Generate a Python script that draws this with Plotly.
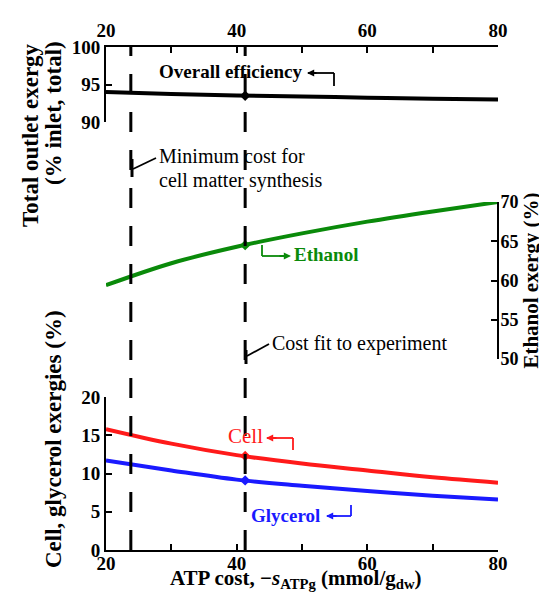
import plotly.graph_objects as go

# ---- data ----
atp_cost = [20, 30, 40, 50, 60, 70, 80]
overall_eff = [94.0, 93.75, 93.55, 93.4, 93.25, 93.1, 93.0]
ethanol = [59.4, 62.2, 64.3, 66.0, 67.5, 68.8, 70.0]
cell = [15.8, 13.9, 12.4, 11.3, 10.4, 9.5, 8.8]
glycerol = [11.7, 10.4, 9.2, 8.4, 7.7, 7.1, 6.6]
fit_x = [41.3]
fit_eff = [93.5]
fit_eth = [64.5]
fit_cell = [12.3]
fit_gly = [9.1]
min_cost_x = 23.8
x_ticks = [20, 40, 60, 80]
x_minor = [30, 50, 70]
top_ticks = [90, 95, 100]
eth_ticks = [50, 55, 60, 65, 70]
bot_ticks = [0, 5, 10, 15, 20]

W, H = 547, 593
L, R, T, B = 98, 57, 39, 51
PW, PH = W - L - R, H - T - B


def px(x):
    return (x - L) / PW


def py(y):
    return (H - B - y) / PH


SERIF = "Liberation Serif, Times New Roman, serif"
GREEN = "#0a8a0a"
RED = "#ff1a1a"
BLUE = "#1a1aff"

fig = go.Figure()
fig.add_trace(go.Scatter(x=atp_cost, y=overall_eff, mode="lines", line=dict(color="black", width=4, shape="spline"),
                         xaxis="x", yaxis="y"))
fig.add_trace(go.Scatter(x=atp_cost, y=ethanol, mode="lines", line=dict(color=GREEN, width=4, shape="spline"),
                         xaxis="x", yaxis="y2"))
fig.add_trace(go.Scatter(x=atp_cost, y=cell, mode="lines", line=dict(color=RED, width=4, shape="spline"),
                         xaxis="x", yaxis="y3"))
fig.add_trace(go.Scatter(x=atp_cost, y=glycerol, mode="lines", line=dict(color=BLUE, width=4, shape="spline"),
                         xaxis="x", yaxis="y3"))
for yv, ya, col in [(fit_eff, "y", "black"), (fit_eth, "y2", GREEN), (fit_cell, "y3", RED), (fit_gly, "y3", BLUE)]:
    fig.add_trace(go.Scatter(x=fit_x, y=yv, mode="markers", marker=dict(color=col, size=8, symbol="diamond"),
                             xaxis="x", yaxis=ya))
# dummy trace to activate the top x axis
fig.add_trace(go.Scatter(x=[20], y=[95], xaxis="x2", yaxis="y", mode="markers", marker=dict(opacity=0),
                         hoverinfo="skip"))

tickfont = dict(family=SERIF, size=19, color="black", weight="bold")
minor = dict(tickvals=x_minor, ticks="inside", ticklen=6, tickwidth=2, tickcolor="black")
axis_common = dict(showgrid=False, zeroline=False, showline=True, linecolor="black", linewidth=2,
                   ticks="inside", ticklen=6, tickwidth=2, tickcolor="black")

fig.update_layout(
    width=W, height=H, margin=dict(l=L, r=R, t=T, b=B),
    paper_bgcolor="white", plot_bgcolor="white", showlegend=False,
    xaxis=dict(range=[20, 80], tickvals=x_ticks, anchor="y3", minor=minor, ticklabelstandoff=-5,
               tickfont=tickfont, **axis_common),
    xaxis2=dict(range=[20, 80], tickvals=x_ticks, anchor="y", overlaying="x", side="top", matches="x",
                minor=minor, tickfont=tickfont, **axis_common),
    yaxis=dict(range=[90, 100], tickvals=top_ticks, domain=[py(114), 1], anchor="x", tickfont=tickfont,
               **axis_common),
    yaxis2=dict(range=[50, 70], tickvals=eth_ticks, domain=[py(351), py(194)], anchor="free", position=1,
                side="right", ticklabelstandoff=-2,
                tickfont=dict(family=SERIF, size=18, color="black", weight="bold"),
                title=dict(text="<b>Ethanol exergy (%)</b>", standoff=0,
                           font=dict(family=SERIF, size=21, color="black")),
                **axis_common),
    yaxis3=dict(range=[0, 20], tickvals=bot_ticks, domain=[0, py(389)], anchor="x", tickfont=tickfont,
                **axis_common),
)

shapes = []
for xv in [min_cost_x, fit_x[0]]:
    shapes.append(dict(type="line", xref="x", yref="paper", x0=xv, x1=xv, y0=0, y1=1,
                       line=dict(color="black", width=3, dash="20px,18px")))


def seg(x0, y0, x1, y1, color="black", w=1.8):
    shapes.append(dict(type="line", xref="paper", yref="paper", x0=px(x0), y0=py(y0), x1=px(x1), y1=py(y1),
                       line=dict(color=color, width=w)))


# leader lines
seg(300, 65, 326, 65)
seg(326, 65, 326, 78)
seg(124, 151, 124, 169, w=3)
seg(125, 161, 148, 150)
seg(238, 342, 238, 356, w=3)
seg(239, 348, 261, 336)
seg(254, 237, 254, 248, GREEN)
seg(254, 248, 280, 248, GREEN)
seg(259, 430, 285, 430, RED)
seg(285, 430, 285, 442, RED)
seg(319, 508, 343, 508, BLUE)
seg(343, 508, 343, 497, BLUE)
fig.update_layout(shapes=shapes)

ann = []


def text(x, y, s, size=19, color="black", anchor="left", angle=0, bold=False, vanchor="middle"):
    ann.append(dict(xref="paper", yref="paper", x=px(x), y=py(y), text=f"<b>{s}</b>" if bold else s,
                    showarrow=False, xanchor=anchor, yanchor=vanchor, textangle=angle,
                    font=dict(family=SERIF, size=size, color=color)))


def arrow(xhead, yhead, xtail, color):
    ann.append(dict(xref="paper", yref="paper", x=px(xhead), y=py(yhead), ax=xtail - xhead, ay=0,
                    axref="pixel", ayref="pixel", text="", showarrow=True, arrowhead=2, arrowsize=0.8,
                    arrowwidth=1.8, arrowcolor=color))


text(149, 64, "Overall efficiency", 19, bold=True)
arrow(299, 65, 310, "black")
text(149, 148, "Minimum cost for", 20)
text(149, 173, "cell matter synthesis", 20)
text(284, 247, "Ethanol", 19, GREEN, bold=True)
arrow(283, 248, 270, GREEN)
text(262, 335, "Cost fit to experiment", 20)
text(218, 428, "Cell", 21, RED)
arrow(258, 430, 270, RED)
text(241, 507, "Glycerol", 19, BLUE, bold=True)
arrow(318, 508, 330, BLUE)

# axis titles
text(22, 127, "Total outlet exergy", 23, angle=-90, anchor="center", bold=True)
text(45, 105, "(% inlet, total)", 23, angle=-90, anchor="center", bold=True)
text(45, 431, "Cell, glycerol exergies (%)", 23, angle=-90, anchor="center", bold=True)
text(288, 586, "ATP cost, −<i>s</i><sub>ATPg</sub> (mmol/g<sub>dw</sub>)", 21, anchor="center", bold=True,
     vanchor="bottom")
fig.update_layout(annotations=ann)

fig.write_html("out.html")
